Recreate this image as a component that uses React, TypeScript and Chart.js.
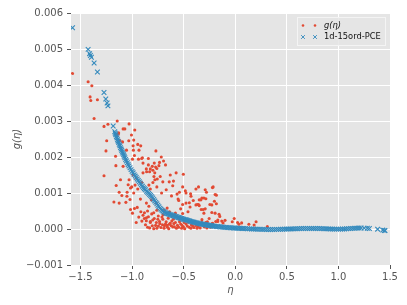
import React, { useEffect, useRef } from "react";
import { Chart, registerables } from "chart.js";

Chart.register(...registerables);

// ---- data ----
const xTicks = [-1.5, -1.0, -0.5, 0.0, 0.5, 1.0, 1.5];
const yTicks = [-0.001, 0.0, 0.001, 0.002, 0.003, 0.004, 0.005, 0.006];
const xRange = [-1.592, 1.5];
const yRange = [-0.001, 0.006];
const seriesNames = ["g(η)", "1d-15ord-PCE"];

// g(eta) samples [eta, g]
const gEtaPoints: [number, number][] = [
  [-1.577, 4.32e-3], [-1.426, 4.09e-3], [-1.39, 3.98e-3], [-1.407, 3.67e-3], [-1.4, 3.57e-3],
  [-1.336, 3.59e-3], [-1.368, 3.07e-3], [-1.272, 2.85e-3], [-1.234, 2.91e-3], [-1.144, 3.0e-3],
  [-1.246, 2.45e-3], [-1.253, 2.17e-3], [-1.135, 2.63e-3], [-1.087, 2.78e-3], [-1.07, 2.78e-3],
  [-1.029, 2.92e-3], [-0.974, 2.75e-3], [-1.006, 2.61e-3], [-0.984, 2.47e-3], [-1.032, 2.45e-3],
  [-1.092, 2.42e-3], [-0.99, 2.31e-3], [-0.916, 2.31e-3], [-1.054, 2.19e-3], [-0.987, 2.19e-3],
  [-0.933, 2.19e-3], [-0.945, 2.35e-3], [-0.769, 2.17e-3], [-1.16, 2.02e-3], [-0.9, 1.98e-3],
  [-0.842, 1.96e-3], [-0.717, 2.0e-3], [-1.13, 2.67e-3], [-1.118, 2.46e-3], [-0.977, 2.04e-3],
  [-0.996, 1.94e-3], [-0.938, 1.94e-3], [-0.907, 1.96e-3],
  [-1.272, 1.48e-3], [-1.157, 1.76e-3], [-1.154, 1.21e-3], [-1.125, 1.02e-3], [-1.176, 0.75e-3],
  [-1.125, 0.72e-3], [-1.06, 0.74e-3], [-1.038, 1.23e-3], [-0.984, 1.0e-3], [-0.945, 1.11e-3],
  [-1.05, 0.91e-3], [-1.02, 0.82e-3], [-1.015, 0.54e-3], [-0.996, 0.44e-3], [-0.977, 0.57e-3],
  [-0.919, 0.83e-3], [-0.894, 1.56e-3], [-0.859, 1.59e-3], [-0.823, 1.67e-3], [-0.785, 1.83e-3],
  [-0.772, 1.72e-3], [-0.798, 1.63e-3], [-0.74, 1.76e-3], [-0.695, 1.89e-3], [-0.676, 1.78e-3],
  [-0.788, 1.46e-3], [-0.756, 1.39e-3], [-0.727, 1.46e-3], [-0.702, 1.31e-3], [-0.63, 1.5e-3],
  [-0.599, 1.33e-3], [-0.64, 1.31e-3], [-0.573, 1.56e-3], [-0.861, 0.72e-3], [-0.837, 0.63e-3],
  [-0.814, 0.81e-3], [-0.765, 0.72e-3], [-0.714, 1.0e-3], [-0.669, 1.09e-3], [-0.606, 1.2e-3],
  [-0.564, 0.97e-3], [-0.541, 1.02e-3], [-0.477, 1.0e-3], [-0.429, 0.91e-3], [-0.381, 1.11e-3],
  [-0.333, 0.81e-3], [-0.291, 1.09e-3], [-0.477, 0.72e-3], [-0.438, 0.61e-3], [-0.356, 0.68e-3],
  [-0.311, 0.54e-3], [-0.503, 1.52e-3], [-0.51, 1.17e-3], [-0.356, 1.17e-3], [-0.221, 1.15e-3],
  [-0.554, 0.83e-3], [-0.484, 1.06e-3], [-0.433, 0.98e-3], [-0.407, 0.79e-3], [-0.381, 0.67e-3],
  [-0.349, 0.81e-3], [-0.183, 0.94e-3], [-0.529, 0.56e-3], [-0.458, 0.48e-3], [-0.688, 0.52e-3],
  [-0.637, 0.48e-3], [-0.58, 0.44e-3], [-0.612, 0.37e-3], [-0.548, 0.29e-3], [-0.51, 0.43e-3],
  [-0.618, 0.92e-3], [-0.548, 0.79e-3], [-0.51, 0.68e-3], [-0.445, 0.73e-3], [-0.368, 0.68e-3],
  [-0.33, 0.54e-3], [-0.285, 0.84e-3], [-0.246, 0.68e-3], [-0.202, 0.77e-3], [-0.214, 1.17e-3],
  [-0.323, 0.86e-3], [-0.304, 0.86e-3], [-0.279, 1.02e-3], [-0.195, 0.96e-3], [-0.349, 0.65e-3],
  [-0.291, 0.56e-3], [-0.304, 0.44e-3], [-0.227, 0.67e-3], [-0.183, 0.7e-3], [-0.227, 0.46e-3],
  [-0.195, 0.44e-3], [-0.157, 0.41e-3], [-0.15, 0.35e-3], [-0.253, 0.29e-3], [-0.323, 0.26e-3],
  [-0.131, 0.22e-3], [-0.099, 0.24e-3], [-0.118, 0.17e-3], [-0.029, 0.2e-3], [-0.01, 0.29e-3],
  [0.023, 0.18e-3], [0.062, 0.17e-3], [0.036, 0.13e-3], [0.132, 0.13e-3], [0.183, 0.11e-3],
  [0.202, 0.2e-3], [0.311, 0.07e-3], [-0.17, 0.21e-3], [-0.22, 0.15e-3], [-0.27, 0.2e-3],
  [-0.861, 0.31e-3], [-0.823, 0.21e-3], [-0.804, 0.09e-3], [-0.765, 0.18e-3], [-0.731, 0.15e-3],
  [-0.686, 0.09e-3], [-0.638, 0.13e-3], [-0.59, 0.06e-3], [-0.894, 0.38e-3], [-0.881, 0.29e-3],
  [-0.862, 0.23e-3], [-0.842, 0.34e-3], [-0.823, 0.18e-3], [-0.81, 0.42e-3], [-0.785, 0.29e-3],
  [-0.772, 0.1e-3], [-0.83, 0.03e-3], [-0.746, 0.36e-3], [-0.734, 0.21e-3], [-0.702, 0.27e-3],
  [-0.676, 0.14e-3], [-0.657, 0.05e-3], [-0.631, 0.16e-3], [-0.606, 0.06e-3], [-0.58, 0.18e-3],
  [-0.548, 0.05e-3], [-0.529, 0.14e-3], [-0.503, 0.06e-3], [-0.477, 0.14e-3], [-0.445, 0.05e-3],
  [-0.413, 0.08e-3], [-0.381, 0.1e-3], [-0.349, 0.16e-3], [-0.317, 0.12e-3], [-0.285, 0.18e-3],
  [-0.253, 0.1e-3], [-0.221, 0.16e-3], [-0.189, 0.21e-3], [-0.169, 0.25e-3],
  [-0.76, 0.02e-3], [-0.745, 0.08e-3], [-0.72, 0.04e-3], [-0.705, 0.12e-3], [-0.69, 0.02e-3],
  [-0.67, 0.2e-3], [-0.66, 0.1e-3], [-0.645, 0.01e-3], [-0.62, 0.09e-3], [-0.615, 0.22e-3],
  [-0.595, 0.15e-3], [-0.57, 0.02e-3], [-0.56, 0.1e-3], [-0.54, 0.2e-3], [-0.52, 0.02e-3],
  [-0.515, 0.1e-3], [-0.495, 0.18e-3], [-0.49, 0.01e-3], [-0.465, 0.08e-3], [-0.455, 0.19e-3],
  [-0.43, 0.02e-3], [-0.425, 0.12e-3], [-0.4, 0.04e-3], [-0.39, 0.2e-3], [-0.37, 0.02e-3],
  [-0.36, 0.07e-3], [-0.34, 0.03e-3], [-0.325, 0.18e-3], [-0.3, 0.06e-3], [-0.275, 0.03e-3],
  [-0.24, 0.05e-3], [-0.21, 0.09e-3], [-0.8, 0.25e-3], [-0.79, 0.01e-3], [-0.75, 0.27e-3],
  [-0.71, 0.33e-3], [-0.65, 0.3e-3], [-0.6, 0.27e-3], [-0.87, 0.12e-3], [-0.85, 0.05e-3],
  [-0.905, 0.22e-3], [-0.915, 0.48e-3], [-0.935, 0.33e-3], [-0.88, 0.45e-3], [-0.85, 0.5e-3],
  [-0.79, 0.45e-3], [-0.76, 0.52e-3], [-0.7, 0.4e-3], [-0.66, 0.58e-3], [-0.95, 0.6e-3],
  [-0.96, 0.18e-3], [-1.087, 1.74e-3], [-1.112, 1.37e-3], [-1.048, 1.02e-3], [-1.099, 0.93e-3],
  [-1.015, 1.14e-3], [-1.003, 1.17e-3], [-0.971, 1.22e-3], [-0.894, 1.83e-3], [-0.842, 1.78e-3],
  [-0.804, 1.74e-3], [-0.76, 1.68e-3], [-0.734, 1.85e-3], [-0.78, 1.56e-3], [-0.83, 1.59e-3],
  [-0.862, 1.67e-3], [-0.99, 1.5e-3], [-1.029, 1.37e-3], [-0.958, 1.41e-3], [-0.907, 1.29e-3],
  [-0.837, 1.22e-3], [-0.798, 1.29e-3], [-0.76, 1.17e-3], [-0.823, 1.11e-3], [-0.779, 1.37e-3],
];

// PCE surrogate evaluations [eta, value]
const pcePoints: [number, number][] = [
  [-1.577, 5.59e-3], [-1.426, 4.99e-3], [-1.412, 4.87e-3], [-1.404, 4.82e-3], [-1.394, 4.77e-3],
  [-1.368, 4.61e-3], [-1.336, 4.36e-3], [-1.272, 3.79e-3], [-1.255, 3.61e-3], [-1.242, 3.5e-3],
  [-1.234, 3.42e-3], [-1.183, 2.86e-3], [-1.168, 2.7e-3], [-1.163, 2.66e-3], [-1.158, 2.62e-3],
  [-1.152, 2.57e-3], [-1.146, 2.53e-3], [-1.141, 2.48e-3], [-1.136, 2.44e-3], [-1.13, 2.4e-3],
  [-1.124, 2.35e-3], [-1.118, 2.31e-3], [-1.112, 2.26e-3], [-1.106, 2.22e-3], [-1.1, 2.18e-3],
  [-1.094, 2.14e-3], [-1.088, 2.1e-3], [-1.082, 2.06e-3], [-1.076, 2.02e-3], [-1.07, 1.98e-3],
  [-1.062, 1.93e-3], [-1.055, 1.89e-3], [-1.046, 1.84e-3], [-1.038, 1.79e-3], [-1.03, 1.75e-3],
  [-1.02, 1.7e-3], [-1.01, 1.65e-3], [-1.0, 1.6e-3], [-0.99, 1.56e-3], [-0.98, 1.51e-3],
  [-0.97, 1.47e-3], [-0.96, 1.43e-3], [-0.95, 1.39e-3], [-0.94, 1.35e-3], [-0.93, 1.31e-3],
  [-0.92, 1.27e-3], [-0.91, 1.23e-3], [-0.9, 1.19e-3], [-0.89, 1.15e-3], [-0.88, 1.12e-3],
  [-0.87, 1.09e-3], [-0.86, 1.05e-3], [-0.85, 1.02e-3], [-0.84, 0.99e-3], [-0.83, 0.96e-3],
  [-0.82, 0.93e-3], [-0.81, 0.9e-3], [-0.8, 0.86e-3], [-0.79, 0.82e-3], [-0.78, 0.78e-3],
  [-0.77, 0.74e-3], [-0.76, 0.7e-3], [-0.75, 0.66e-3], [-0.74, 0.62e-3], [-0.73, 0.58e-3],
  [-0.72, 0.55e-3], [-0.71, 0.52e-3], [-0.7, 0.5e-3], [-0.69, 0.48e-3], [-0.68, 0.46e-3],
  [-0.67, 0.44e-3], [-0.66, 0.43e-3], [-0.65, 0.42e-3], [-0.64, 0.41e-3], [-0.63, 0.4e-3],
  [-0.62, 0.39e-3], [-0.61, 0.38e-3], [-0.6, 0.37e-3], [-0.59, 0.36e-3], [-0.58, 0.35e-3],
  [-0.57, 0.34e-3], [-0.56, 0.33e-3], [-0.55, 0.32e-3], [-0.54, 0.31e-3], [-0.53, 0.3e-3],
  [-0.52, 0.29e-3], [-0.51, 0.28e-3], [-0.5, 0.27e-3], [-0.49, 0.26e-3], [-0.48, 0.255e-3],
  [-0.47, 0.25e-3], [-0.46, 0.24e-3], [-0.45, 0.23e-3], [-0.44, 0.22e-3], [-0.43, 0.21e-3],
  [-0.42, 0.2e-3], [-0.41, 0.195e-3], [-0.4, 0.19e-3], [-0.39, 0.18e-3], [-0.38, 0.175e-3],
  [-0.37, 0.17e-3], [-0.36, 0.16e-3], [-0.35, 0.15e-3], [-0.34, 0.145e-3], [-0.33, 0.14e-3],
  [-0.32, 0.135e-3], [-0.31, 0.13e-3], [-0.3, 0.125e-3], [-0.29, 0.12e-3], [-0.28, 0.115e-3],
  [-0.27, 0.11e-3], [-0.26, 0.105e-3], [-0.25, 0.1e-3], [-0.24, 0.095e-3], [-0.23, 0.09e-3],
  [-0.22, 0.085e-3], [-0.21, 0.08e-3], [-0.2, 0.077e-3], [-0.185, 0.072e-3], [-0.17, 0.067e-3],
  [-0.155, 0.062e-3], [-0.14, 0.057e-3], [-0.125, 0.053e-3], [-0.11, 0.049e-3], [-0.095, 0.045e-3],
  [-0.08, 0.041e-3], [-0.065, 0.038e-3], [-0.05, 0.035e-3], [-0.035, 0.032e-3], [-0.02, 0.03e-3],
  [-0.005, 0.028e-3], [0.01, 0.025e-3], [0.025, 0.022e-3], [0.04, 0.02e-3], [0.055, 0.017e-3],
  [0.07, 0.015e-3], [0.085, 0.012e-3], [0.1, 0.01e-3], [0.12, 0.007e-3], [0.14, 0.004e-3],
  [0.16, 0.001e-3], [0.18, -0.002e-3], [0.2, -0.004e-3], [0.22, -0.006e-3], [0.24, -0.008e-3],
  [0.26, -0.01e-3], [0.28, -0.011e-3], [0.3, -0.012e-3], [0.32, -0.013e-3], [0.34, -0.013e-3],
  [0.36, -0.013e-3], [0.38, -0.012e-3], [0.4, -0.011e-3], [0.42, -0.01e-3], [0.44, -0.008e-3],
  [0.46, -0.006e-3], [0.48, -0.004e-3], [0.5, -0.002e-3], [0.52, 0.0], [0.54, 0.002e-3],
  [0.56, 0.004e-3], [0.58, 0.006e-3], [0.6, 0.008e-3], [0.62, 0.01e-3], [0.64, 0.012e-3],
  [0.66, 0.013e-3], [0.68, 0.014e-3], [0.7, 0.015e-3], [0.72, 0.016e-3], [0.74, 0.016e-3],
  [0.76, 0.016e-3], [0.78, 0.015e-3], [0.8, 0.014e-3], [0.82, 0.012e-3], [0.84, 0.01e-3],
  [0.86, 0.008e-3], [0.88, 0.005e-3], [0.9, 0.003e-3], [0.92, 0.0], [0.94, -0.002e-3],
  [0.96, -0.003e-3], [0.98, -0.004e-3], [1.0, -0.004e-3], [1.02, -0.003e-3], [1.04, -0.001e-3],
  [1.06, 0.002e-3], [1.08, 0.006e-3], [1.1, 0.01e-3], [1.12, 0.014e-3], [1.14, 0.018e-3],
  [1.16, 0.022e-3], [1.18, 0.025e-3], [1.2, 0.027e-3], [1.22, 0.027e-3], [1.25, 0.025e-3],
  [1.28, 0.02e-3], [1.3, 0.015e-3], [1.38, -0.005e-3], [1.43, -0.03e-3], [1.445, -0.04e-3],
  [1.452, -0.045e-3],
];

// ---- styling ----
const RED = "#E24A33";
const BLUE = "#348ABD";
const BG = "#E5E5E5";
const TICK_COLOR = "#555555";
const FONT = "'DejaVu Sans', sans-serif";

const fmtNum = (v: number, d: number) => {
  const s = Math.abs(v).toFixed(d);
  return (v < 0 && Math.abs(v) > 1e-12 ? "\u2212" : "") + s;
};

export default function App() {
  const ref = useRef<HTMLCanvasElement | null>(null);

  useEffect(() => {
    if (!ref.current) return;

    const bgPlugin = {
      id: "bgPlugin",
      beforeDraw(chart: any) {
        const { ctx, chartArea } = chart;
        ctx.save();
        ctx.fillStyle = "#ffffff";
        ctx.fillRect(0, 0, chart.width, chart.height);
        ctx.fillStyle = BG;
        ctx.fillRect(chartArea.left, chartArea.top, chartArea.right - chartArea.left, chartArea.bottom - chartArea.top);
        ctx.restore();
      },
    };

    const legendPlugin = {
      id: "mplLegend",
      afterDraw(chart: any) {
        const { ctx, chartArea } = chart;
        const x0 = chartArea.right - 93;
        const y0 = chartArea.top + 4;
        const w = 89;
        const h = 29;
        ctx.save();
        ctx.fillStyle = "rgba(229,229,229,0.85)";
        ctx.fillRect(x0, y0, w, h);
        ctx.strokeStyle = "#f4f4f4";
        ctx.lineWidth = 1;
        ctx.strokeRect(x0 + 0.5, y0 + 0.5, w - 1, h - 1);
        const r1 = y0 + 8.5;
        const r2 = y0 + 20;
        const mx = [x0 + 6, x0 + 18];
        ctx.fillStyle = RED;
        mx.forEach((m) => {
          ctx.beginPath();
          ctx.arc(m, r1, 1.3, 0, Math.PI * 2);
          ctx.fill();
        });
        ctx.strokeStyle = BLUE;
        ctx.lineWidth = 0.9;
        mx.forEach((m) => {
          const d = 1.9;
          ctx.beginPath();
          ctx.moveTo(m - d, r2 - d);
          ctx.lineTo(m + d, r2 + d);
          ctx.moveTo(m - d, r2 + d);
          ctx.lineTo(m + d, r2 - d);
          ctx.stroke();
        });
        ctx.fillStyle = "#111111";
        ctx.textBaseline = "middle";
        ctx.textAlign = "left";
        ctx.font = "italic 8.3px " + FONT;
        ctx.fillText(seriesNames[0], x0 + 27, r1);
        ctx.font = "8.3px " + FONT;
        ctx.fillText(seriesNames[1], x0 + 27, r2);
        ctx.restore();
      },
    };

    const chart = new Chart(ref.current, {
      type: "scatter",
      data: {
        datasets: [
          {
            label: seriesNames[0],
            data: gEtaPoints.map(([x, y]) => ({ x, y })),
            pointStyle: "circle",
            pointRadius: 1.55,
            pointBackgroundColor: RED,
            pointBorderWidth: 0,
            borderWidth: 0,
            order: 1,
          },
          {
            label: seriesNames[1],
            data: pcePoints.map(([x, y]) => ({ x, y })),
            pointStyle: "crossRot",
            pointRadius: 3.3,
            pointBorderColor: BLUE,
            pointBorderWidth: 1.1,
            pointBackgroundColor: BLUE,
            order: 0,
          },
        ],
      },
      options: {
        responsive: false,
        animation: false,
        events: [],
        layout: { padding: { top: 13, right: 17, left: 0, bottom: 0 } },
        plugins: {
          legend: { display: false },
          tooltip: { enabled: false },
        },
        scales: {
          x: {
            type: "linear",
            min: xRange[0],
            max: xRange[1],
            afterBuildTicks: (s: any) => {
              s.ticks = xTicks.map((v) => ({ value: v }));
            },
            afterFit: (s: any) => {
              s.height = 40;
            },
            grid: { color: "#ffffff", lineWidth: 1, tickColor: TICK_COLOR, tickLength: 4, tickWidth: 1 },
            border: { display: false },
            ticks: {
              color: TICK_COLOR,
              font: { family: FONT, size: 10 },
              padding: 2,
              maxRotation: 0,
              autoSkip: false,
              callback: (v: any) => fmtNum(Number(v), 1),
            },
            title: {
              display: true,
              text: "η",
              color: TICK_COLOR,
              font: { family: FONT, size: 10, style: "italic" },
              padding: { top: 0, bottom: 9 },
            },
          },
          y: {
            type: "linear",
            min: yRange[0],
            max: yRange[1],
            afterBuildTicks: (s: any) => {
              s.ticks = yTicks.map((v) => ({ value: v }));
            },
            afterFit: (s: any) => {
              s.width = 71;
            },
            grid: { color: "#ffffff", lineWidth: 1, tickColor: TICK_COLOR, tickLength: 4, tickWidth: 1 },
            border: { display: false },
            ticks: {
              color: TICK_COLOR,
              font: { family: FONT, size: 10 },
              padding: 4,
              autoSkip: false,
              callback: (v: any) => fmtNum(Number(v), 3),
            },
            title: {
              display: true,
              text: "g(η)",
              color: TICK_COLOR,
              font: { family: FONT, size: 10, style: "italic" },
              padding: { top: 11, bottom: 0 },
            },
          },
        },
      },
      plugins: [bgPlugin, legendPlugin],
    } as any);

    return () => chart.destroy();
  }, []);

  return (
    <div style={{ position: "absolute", left: 0, top: 0, width: 407, height: 305 }}>
      <canvas ref={ref} width={407} height={305} />
    </div>
  );
}
